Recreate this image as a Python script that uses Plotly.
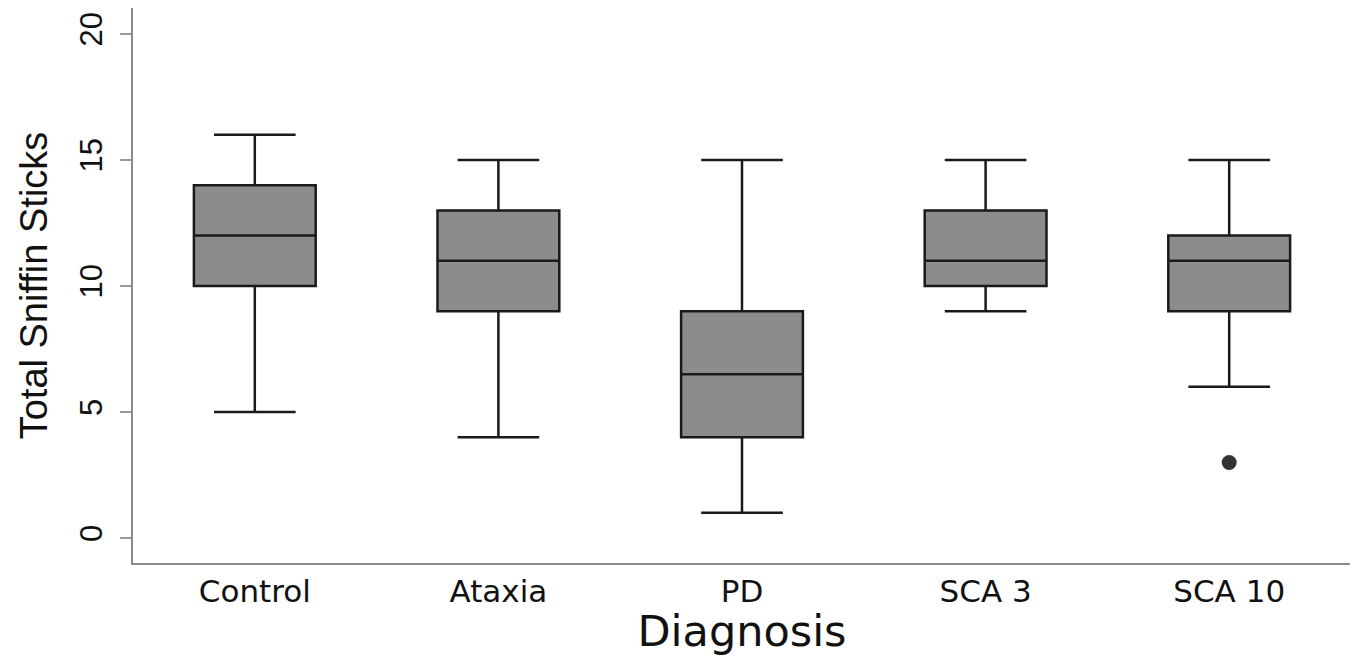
import plotly.graph_objects as go

categories = ["Control", "Ataxia", "PD", "SCA 3", "SCA 10"]
lower_whisker = [5, 4, 1, 9, 6]
q1_values = [10, 9, 4, 10, 9]
median_values = [12, 11, 6.5, 11, 11]
q3_values = [14, 13, 9, 13, 12]
upper_whisker = [16, 15, 15, 15, 15]
outlier_categories = ["SCA 10"]
outlier_values = [3]
y_tick_values = [0, 5, 10, 15, 20]

fig = go.Figure()
fig.add_trace(go.Box(
    x=categories,
    q1=q1_values,
    median=median_values,
    q3=q3_values,
    lowerfence=lower_whisker,
    upperfence=upper_whisker,
    fillcolor="#8c8c8c",
    line=dict(color="#1a1a1a", width=2.5),
    whiskerwidth=0.67,
    width=0.5,
    boxpoints=False,
    showlegend=False,
))
fig.add_trace(go.Scatter(
    x=outlier_categories,
    y=outlier_values,
    mode="markers",
    marker=dict(color="#333333", size=15, symbol="circle"),
    showlegend=False,
))

fig.update_layout(
    width=1350, height=648,
    margin=dict(l=125, r=7, t=0, b=93),
    plot_bgcolor="white",
    paper_bgcolor="white",
    font=dict(family="Liberation Sans", color="#111111"),
)
fig.update_xaxes(
    type="category",
    categoryorder="array",
    categoryarray=categories,
    range=[-0.5, 4.5],
    automargin=False,
    showline=True, linecolor="#8a8a8a", linewidth=2,
    showgrid=False, zeroline=False, ticks="",
    tickfont=dict(family="DejaVu Sans", size=31, color="#111111"),
    title=dict(text="Diagnosis", font=dict(family="DejaVu Sans", size=43, color="#111111"), standoff=4),
)
fig.update_yaxes(
    range=[-0.99, 21.03],
    tickvals=y_tick_values,
    automargin=False,
    showline=True, linecolor="#8a8a8a", linewidth=2,
    showgrid=False, zeroline=False,
    ticks="outside", ticklen=11, tickcolor="#9a9a9a", tickwidth=2,
    tickangle=-90,
    ticklabelstandoff=6,
    tickfont=dict(family="Liberation Sans", size=31, color="#111111"),
    title=dict(text="Total Sniffin Sticks", font=dict(family="Liberation Sans", size=38, color="#111111"), standoff=14),
)

fig.write_html("out.html")
